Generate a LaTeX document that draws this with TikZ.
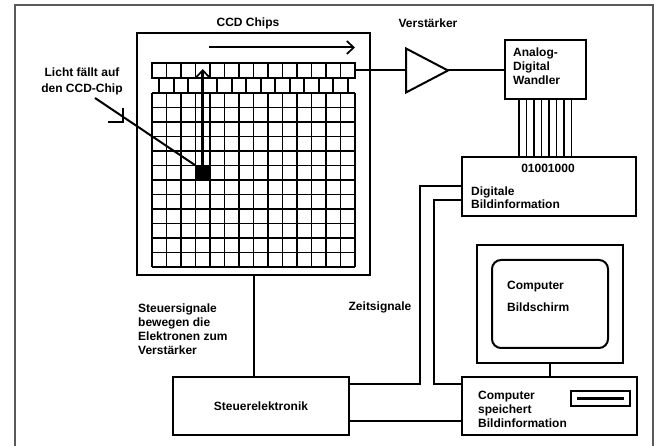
\documentclass[tikz,border=0pt]{standalone}
\usepackage{fontspec}
\setmainfont{Liberation Sans}
\usepackage{tikz}
\usetikzlibrary{arrows.meta,calc,positioning}

\tikzset{
  box/.style={draw,line width=2pt,inner sep=0pt},
  wire/.style={line width=2pt},
  cell/.style={line width=1.6pt},
  lbl/.style={inner sep=0pt,font=\fontsize{12}{14}\selectfont\bfseries,align=left},
  barb/.style={-{Straight Barb[length=7pt,width=13pt,line width=1.7pt]}}
}

\begin{document}
\begin{tikzpicture}[x=1pt,y=-1pt]
\useasboundingbox (0,0) rectangle (654,446);
\draw[gray!70!black,line width=1.2pt] (15,446) -- (15,5) -- (653,5) -- (653,446);

\node[box,minimum width=233pt,minimum height=242pt] (ccd) at (253.5,154) {};
\foreach \i in {0,...,14} \draw[cell] ({152+14.5*\i},93) -- ++(0,174);
\foreach \j in {0,...,12} \draw[cell] (152,{93+14.5*\j}) -- ++(203,0);
\draw[cell] (152,63) rectangle (355,78);
\foreach \i in {1,...,13} \draw[cell] ({152+14.5*\i},63) -- ++(0,15);
\draw[cell] (159.25,78) rectangle (347.75,93);
\foreach \i in {1,...,12} \draw[cell] ({159.25+14.5*\i},78) -- ++(0,15);
\node[fill,minimum size=14.5pt,inner sep=0pt] (pix) at (202.75,172.75) {};

\coordinate (srtop) at (202.75,69);
\draw[line width=2.8pt,barb] (pix.north) -- (srtop);
\coordinate (shl) at (209,47.5);
\coordinate (shr) at (355,47.5);
\draw[wire,barb] (shl) -- (shr);

\node[lbl,align=center,font=\fontsize{12}{16}\selectfont\bfseries] (licht) at (82,81) {Licht fällt auf\\den CCD-Chip};
\coordinate (lray) at (95,98);
\draw[wire] (lray) -- (pix.north west);
\draw[wire] (108,122) -- (123,122) -- (123,108);

\node[lbl] (ccdlbl) at (248,23) {CCD Chips};
\node[lbl] (amplbl) at (428,23) {Verstärker};

\coordinate (srout) at (355,70.5);
\coordinate (ampin) at (406,70.5);
\draw[box] (406,48.5) -- (448,70.5) coordinate (ampout) -- (406,92.5) -- cycle;
\node[box,minimum width=81pt,minimum height=59pt] (adc) at (545.5,70) {};
\node[lbl,anchor=west] (adctxt) at (513,66) {Analog-\\Digital\\Wandler};
\draw[wire] (srout) -- (ampin);
\draw[wire] (ampout) -- (ampout -| adc.west);

\node[box,minimum width=174pt,minimum height=59pt] (dig) at (549,186.5) {};
\node[lbl] (bits) at (548,168) {01001000};
\node[lbl,anchor=west,font=\fontsize{12}{13}\selectfont\bfseries] (digtxt) at (471,198) {Digitale\\Bildinformation};
\foreach \k in {0,...,7} {
  \path (adc.south west) ++({15+7.5*\k},0) coordinate (b\k);
  \draw[cell] (b\k) -- (b\k |- dig.north);
}

\node[box,minimum width=176pt,minimum height=58pt,font=\fontsize{12}{14}\selectfont\bfseries] (ctrl) at (261,406) {Steuerelektronik};
\draw[wire] (ccd.south) -- (ccd.south |- ctrl.north);
\node[lbl,anchor=west] (steuer) at (138,329.5) {Steuersignale\\bewegen die\\Elektronen zum\\Verstärker};
\node[lbl] (zeit) at (380,307) {Zeitsignale};

\node[box,minimum width=146pt,minimum height=118pt] (mon) at (550,304) {};
\node[box,rounded corners=9pt,minimum width=116pt,minimum height=88pt] (screen) at (550,304) {};
\node[lbl,anchor=west,font=\fontsize{12}{22}\selectfont\bfseries] (scrtxt) at (507,296) {Computer\\Bildschirm};
\node[box,minimum width=175pt,minimum height=58pt] (pc) at (549.5,406) {};
\node[lbl,anchor=west] (pctxt) at (478,409) {Computer\\speichert\\Bildinformation};
\node[box,minimum width=59pt,minimum height=15pt] (slot) at (600.5,398.5) {};
\draw[line width=2.6pt] ([xshift=7pt]slot.west) -- ([xshift=-7pt]slot.east);
\draw[wire] (mon.south) -- (mon.south |- pc.north);

\draw[wire] ([yshift=22pt]ctrl.east) -| ([xshift=-41pt]dig.west) -- (dig.west);
\draw[wire] ([yshift=22pt]pc.west) -| ([xshift=-27pt,yshift=-14pt]dig.west) -- ([yshift=-14pt]dig.west);
\draw[wire] ([yshift=-15pt]ctrl.east) -- ([yshift=-15pt]pc.west);
\end{tikzpicture}
\end{document}
